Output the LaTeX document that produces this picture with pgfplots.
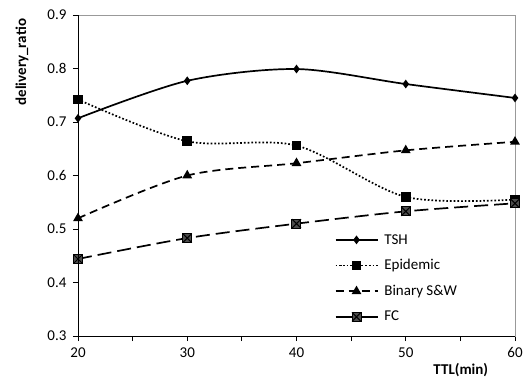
\documentclass[border=0pt]{standalone}
\usepackage{fontspec}
\setmainfont{Carlito}
\usepackage{pgfplots}
\pgfplotsset{compat=1.18}
\pgfdeclareplotmark{sqx}{%
  \pgfpathrectangle{\pgfpoint{-\pgfplotmarksize}{-\pgfplotmarksize}}{\pgfpoint{2\pgfplotmarksize}{2\pgfplotmarksize}}%
  \pgfusepathqfillstroke
  \pgfpathmoveto{\pgfpoint{-\pgfplotmarksize}{-\pgfplotmarksize}}%
  \pgfpathlineto{\pgfpoint{\pgfplotmarksize}{\pgfplotmarksize}}%
  \pgfpathmoveto{\pgfpoint{-\pgfplotmarksize}{\pgfplotmarksize}}%
  \pgfpathlineto{\pgfpoint{\pgfplotmarksize}{-\pgfplotmarksize}}%
  \pgfusepathqstroke}
\begin{document}
\begin{tikzpicture}[font=\fontsize{15}{18}\selectfont]
\path[use as bounding box] (-78pt,-45pt) rectangle (445pt,336pt);
\begin{axis}[
  name=ax,
  at={(0,0)}, anchor=south west,
  scale only axis, width=437pt, height=321pt,
  xmin=20, xmax=60, ymin=0.3, ymax=0.9,
  xtick={20,30,40,50,60},
  minor xtick={25,35,45,55},
  ytick={0.3,0.4,0.5,0.6,0.7,0.8,0.9},
  yticklabel style={/pgf/number format/fixed,/pgf/number format/precision=1,/pgf/number format/fixed zerofill},
  /pgf/number format/assume math mode=true,
  tick align=outside, xtick pos=left, ytick pos=left,
  major tick length=5pt, minor tick length=5pt,
  tick style={black, line width=0.8pt},
  axis line style={gray!80, line width=0.8pt},
  xticklabel style={yshift=-3pt},
  yticklabel style={xshift=-3pt},
  xlabel={\textbf{TTL(min)}},
  xlabel style={at={(axis description cs:0.876,0)}, anchor=center, yshift=-34pt},
  ylabel={\textbf{delivery\_ratio}},
  ylabel style={at={(axis description cs:-0.128,0.853)}, anchor=center},
  legend style={draw=none, fill=none, at={(axis description cs:0.58,0.33)}, anchor=north west,
    row sep=10pt, column sep=4pt, font=\fontsize{15}{18}\selectfont},
  legend cell align=left,
  legend image code/.code={\draw[mark repeat=2,mark phase=2] plot coordinates {(0pt,0pt) (21pt,0pt) (42pt,0pt)};},
  every axis plot/.append style={line width=1.7pt, smooth, tension=0.5},
]
\addplot[black, mark=diamond*, mark size=3pt, mark options={solid}] coordinates {(20,0.707) (30,0.777) (40,0.799) (50,0.771) (60,0.745)};
\addlegendentry{TSH}
\addplot[black, dotted, mark=square*, mark size=4pt, mark options={solid}] coordinates {(20,0.742) (30,0.664) (40,0.656) (50,0.560) (60,0.555)};
\addlegendentry{Epidemic}
\addplot[black, dash pattern=on 8pt off 5pt, mark=triangle*, mark size=4pt, mark options={solid}] coordinates {(20,0.520) (30,0.600) (40,0.623) (50,0.647) (60,0.663)};
\addlegendentry{Binary S\&W}
\addplot[black, dash pattern=on 14pt off 6pt, mark=sqx, mark size=4.5pt, mark options={solid, fill=black!70, draw=black, line width=1pt},
  legend image code/.code={\draw[solid, mark repeat=2,mark phase=2] plot coordinates {(0pt,0pt) (21pt,0pt) (42pt,0pt)};}] coordinates {(20,0.444) (30,0.483) (40,0.510) (50,0.533) (60,0.548)};
\addlegendentry{FC}
\end{axis}
\draw[black, line width=0.8pt] (ax.north west) -- (ax.south west) -- (ax.south east);
\end{tikzpicture}
\end{document}
